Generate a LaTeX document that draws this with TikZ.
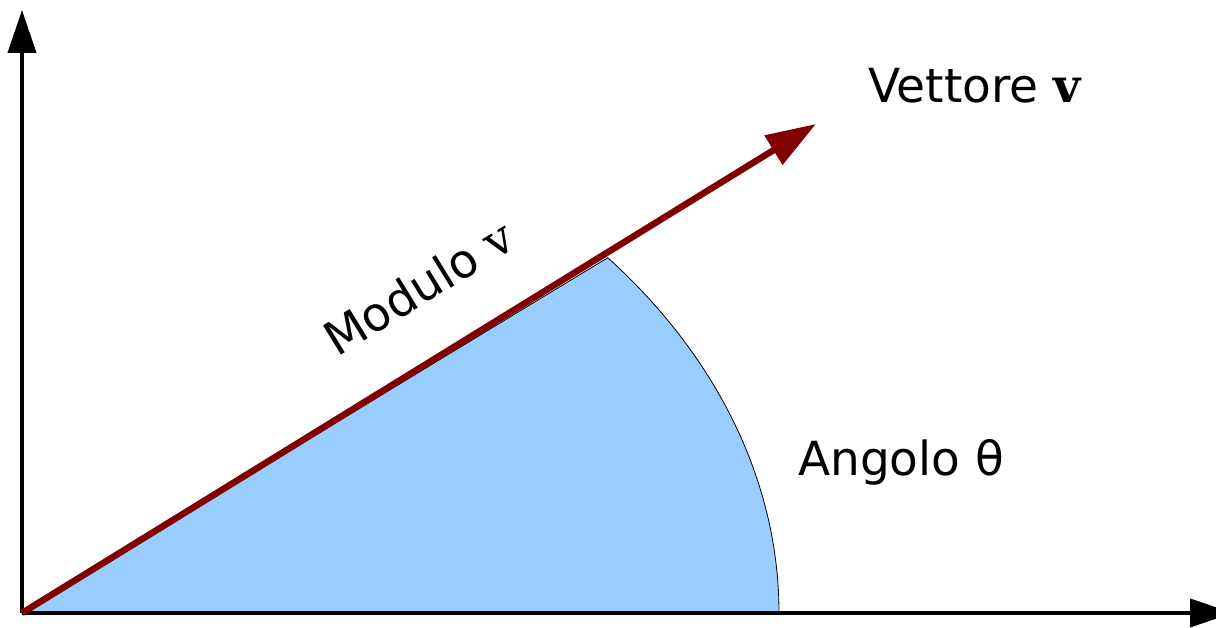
\documentclass[tikz,border=0pt]{standalone}
\usepackage{fontspec}
\setmainfont{DejaVu Sans}
\newfontfamily\serifv{DejaVu Serif}
\usetikzlibrary{arrows.meta}
\definecolor{vecred}{HTML}{800000}
\definecolor{sectorblue}{HTML}{99CCFF}
\tikzset{
  axisline/.style={line width=4pt,-{Triangle[length=43pt,width=28pt]}},
  vecline/.style={line width=6.5pt,color=vecred,-{Triangle[length=50pt,width=33pt]}},
  sectorfill/.style={fill=sectorblue,draw=black,line width=0.8pt},
  lbl/.style={font=\fontsize{47}{52}\selectfont,inner sep=0pt}
}
\begin{document}
\begin{tikzpicture}[x=1pt,y=1pt]
\useasboundingbox (0,0) rectangle (1216,628);
\coordinate (O) at (22,15);
\coordinate (Ytip) at (22,618);
\coordinate (Xtip) at (1233,15);
\coordinate (Vtip) at (816,504);
\coordinate (S0) at (779,15);
% sector (elliptical arc)
\path[sectorfill] (O) -- (S0) arc[start angle=0,end angle=39.3,x radius=757,y radius=561] -- cycle;
% axes
\draw[axisline] (O) -- (Ytip);
\draw[axisline] (O) -- (Xtip);
% vector
\draw[vecline] (O) -- (Vtip);
% labels
\node[lbl,anchor=base west] (vett) at (868,525) {Vettore {\serifv\bfseries v}};
\node[lbl,anchor=base west] (ang) at (798,152) {Angolo θ};
\node[lbl,anchor=base west,rotate=31.6] (mod) at (337,270) {Modulo {\serifv v}};
\end{tikzpicture}
\end{document}
